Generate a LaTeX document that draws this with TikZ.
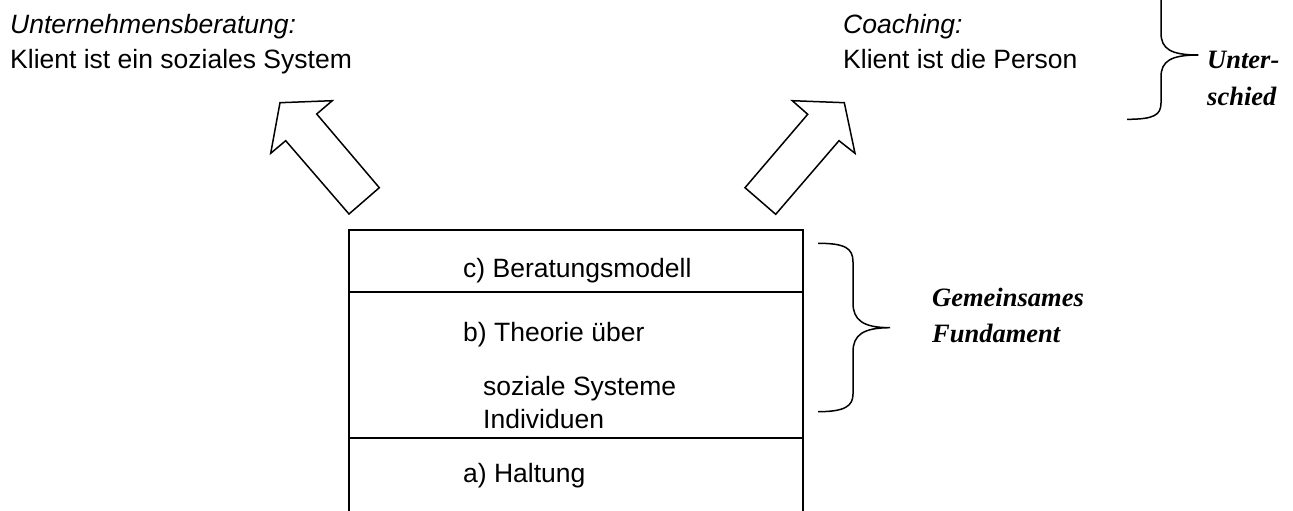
\documentclass[tikz,border=0pt]{standalone}
\usepackage{fontspec}
\setmainfont{Liberation Sans}
\newfontfamily\tnr{Liberation Serif}
\begin{document}
\begin{tikzpicture}[x=1pt,y=-1pt,
  txt/.style={anchor=base west,inner sep=0pt,font=\fontsize{26.5}{30}\selectfont},
  itxt/.style={txt,font=\fontsize{26.5}{30}\selectfont\itshape},
  btxt/.style={anchor=base west,inner sep=0pt,font=\fontsize{26.5}{30}\selectfont\tnr\bfseries\itshape},
  boxline/.style={line width=2pt},
  bigarrow/.style={line width=1.5pt,line join=miter,fill=white},
  brace/.style={line width=1.5pt}]
\useasboundingbox (0,0) rectangle (1293,511);
\clip (0,0) rectangle (1293,511);

% top texts
\node[itxt] (ub) at (10,34) {Unternehmensberatung:};
\node[txt] (ubk) at (10,68) {Klient ist ein soziales System};
\node[itxt] (co) at (843,34) {Coaching:};
\node[txt] (cok) at (843,68) {Klient ist die Person};

% arrows
\draw[bigarrow] (280,102.7) -- (332.3,100.7) -- (316.7,114) -- (379.3,187.7) -- (349,214) -- (285.7,140.7) -- (270.7,153.3) -- cycle;
\draw[bigarrow] (844.3,102.7) -- (792.3,100.7) -- (807.7,114.3) -- (745,187.7) -- (775.7,214.3) -- (839,140.7) -- (855,153.3) -- cycle;

% box
\coordinate (bl) at (349,520);
\coordinate (tl) at (349,230);
\coordinate (tr) at (803,230);
\coordinate (br) at (803,520);
\coordinate (l1) at (349,291.7);
\coordinate (r1) at (803,291.7);
\coordinate (l2) at (349,438.3);
\coordinate (r2) at (803,438.3);
\draw[boxline] (bl) -- (tl) -- (tr) -- (br);
\draw[boxline] (l1) -- (r1);
\draw[boxline] (l2) -- (r2);

\node[txt] (c) at (463,277) {c) Beratungsmodell};
\node[txt] (b) at (463,341) {b) Theorie über};
\node[txt] (b1) at (483,395) {soziale Systeme};
\node[txt] (b2) at (483,428) {Individuen};
\node[txt] (a) at (463,482) {a) Haltung};

% middle brace
\draw[brace] (818,243.3) .. controls (845,243.3) and (853,248) .. (853,262)
  -- (853,303) .. controls (853,320) and (863,327.7) .. (890,327.7)
  .. controls (863,327.7) and (853,335) .. (853,352)
  -- (853,394) .. controls (853,406) and (845,411.7) .. (818,411.7);
\node[btxt] (gem) at (932,306) {Gemeinsames};
\node[btxt] (fun) at (932,342) {Fundament};

% right brace
\draw[brace] (1127,-40) .. controls (1154,-40) and (1161,-35) .. (1161,-21)
  -- (1161,33) .. controls (1161,49) and (1171,55) .. (1198.3,55)
  .. controls (1171,55) and (1161,61) .. (1161,77)
  -- (1161,103) .. controls (1161,115) and (1154,119.3) .. (1127,119.3);
\node[btxt] (unt) at (1207,68) {Unter-};
\node[btxt] (sch) at (1207,106) {schied};
\end{tikzpicture}
\end{document}
